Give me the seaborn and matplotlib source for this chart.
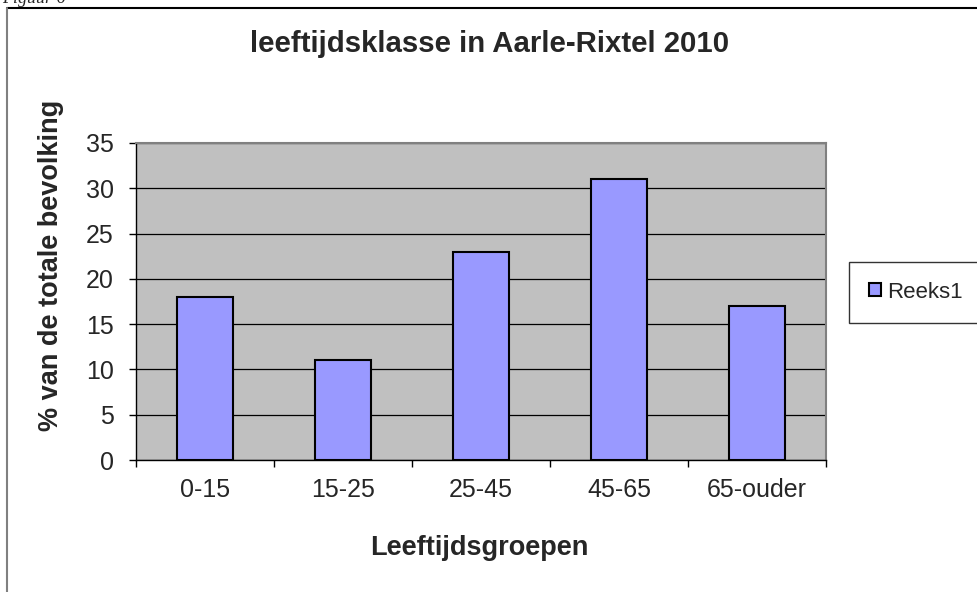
import matplotlib
matplotlib.use("Agg")
import matplotlib.pyplot as plt
import seaborn as sns
import pandas as pd
from matplotlib.lines import Line2D
from matplotlib.ticker import MultipleLocator, FixedLocator

categories = ["0-15", "15-25", "25-45", "45-65", "65-ouder"]
values = [18, 11, 23, 31, 17]
series_name = "Reeks1"
title = "leeftijdsklasse in Aarle-Rixtel 2010"
xlabel = "Leeftijdsgroepen"
ylabel = "% van de totale bevolking"

df = pd.DataFrame({"groep": categories, "pct": values, "reeks": series_name})

sns.set_theme(style="white")
plt.rcParams["font.family"] = ["Liberation Sans", "DejaVu Sans"]

W, H = 978, 592
fig = plt.figure(figsize=(W / 100, H / 100), dpi=100)
fig.patch.set_facecolor("white")

# outer chart frame
fig.add_artist(Line2D([7 / W, 1.0], [1 - 8 / H, 1 - 8 / H], transform=fig.transFigure, color="black", lw=1.5))
fig.add_artist(Line2D([7 / W, 7 / W], [0, 1 - 8 / H], transform=fig.transFigure, color="#808080", lw=1.5))
fig.text(2 / W, 1 - 3 / H, "Figuur 6", family="Liberation Serif", style="italic", fontsize=13, va="baseline", ha="left")

ax = fig.add_axes([136 / W, (H - 460) / H, 690 / W, 317 / H])
ax.set_facecolor("#C0C0C0")
sns.barplot(data=df, x="groep", y="pct", hue="reeks", palette=["#9999FF"], width=0.4,
            edgecolor="black", linewidth=1.5, ax=ax, zorder=3, saturation=1)
ax.set_xlim(-0.5, len(categories) - 0.5)
ax.set_ylim(0, 35)
ax.yaxis.set_major_locator(MultipleLocator(5))
ax.grid(axis="y", color="black", lw=0.9, zorder=1)
ax.set_axisbelow(True)
for s in ["top", "right"]:
    ax.spines[s].set_color("#808080")
    ax.spines[s].set_linewidth(1.5)
for s in ["left", "bottom"]:
    ax.spines[s].set_color("black")
    ax.spines[s].set_linewidth(1.0)
ax.tick_params(axis="y", which="major", left=True, length=5, width=1, color="black", labelsize=18, pad=11)
ax.tick_params(axis="x", which="major", length=0, labelsize=18, pad=13)
ax.xaxis.set_minor_locator(FixedLocator([i - 0.5 for i in range(len(categories) + 1)]))
ax.tick_params(axis="x", which="minor", bottom=True, length=5, width=1, color="black")

fig.text(490 / W, 1 - 44 / H, title, fontsize=21.2, fontweight="bold", ha="center", va="center")
ax.set_xlabel(xlabel, fontsize=19.5, fontweight="bold", va="center")
ax.xaxis.set_label_coords(0.5 + (479 - 481) / 690, (460 - 548) / 317)
ax.set_ylabel(ylabel, fontsize=19.5, fontweight="bold", va="center")
ax.yaxis.set_label_coords((51 - 136) / 690, (460 - 265) / 317)

handles, labels = ax.get_legend_handles_labels()
ax.legend(handles, labels, loc="center left", bbox_to_anchor=(849 / W, 300 / H),
          bbox_transform=fig.transFigure, frameon=True, fancybox=False, edgecolor="black",
          fontsize=16, handlelength=0.55, handleheight=0.55, handletextpad=0.25,
          borderpad=0.9, borderaxespad=0)
leg = ax.get_legend()
leg.get_frame().set_linewidth(1.0)
for p in leg.get_patches():
    p.set_edgecolor("black")
    p.set_linewidth(1.5)

fig.savefig("out.png", dpi=100, facecolor="white")
